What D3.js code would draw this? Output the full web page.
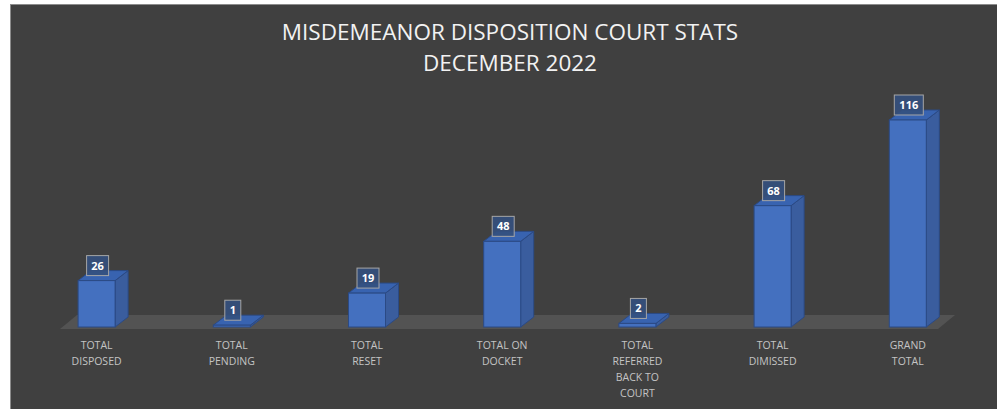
<!DOCTYPE html>
<html>
<head>
<meta charset="utf-8">
<script src="https://cdn.jsdelivr.net/npm/d3@7"></script>
<style>
  body { margin: 0; background: #ffffff; }
  text { font-family: "Open Sans", "Liberation Sans", sans-serif; }
</style>
</head>
<body>
<script>
var width = 997;
var height = 409;

var categories = ["TOTAL DISPOSED", "TOTAL PENDING", "TOTAL RESET", "TOTAL ON DOCKET",
  "TOTAL REFERRED BACK TO COURT", "TOTAL DIMISSED", "GRAND TOTAL"];
var values = [26, 1, 19, 48, 2, 68, 116];
var tickLines = [["TOTAL", "DISPOSED"], ["TOTAL", "PENDING"], ["TOTAL", "RESET"],
  ["TOTAL ON", "DOCKET"], ["TOTAL", "REFERRED", "BACK TO", "COURT"],
  ["TOTAL", "DIMISSED"], ["GRAND", "TOTAL"]];
var titleLines = ["MISDEMEANOR DISPOSITION COURT STATS", "DECEMBER 2022"];

var svg = d3.select("body")
  .append("svg")
  .attr("width", width)
  .attr("height", height);

// chart panel
svg.append("rect")
  .attr("x", 10.5).attr("y", 4.5)
  .attr("width", 1000).attr("height", 420)
  .attr("fill", "#404040")
  .attr("stroke", "#8c8c8c");

var baseY = 327;
var depthX = 13, depthY = 10;

var x = d3.scaleBand()
  .domain(categories)
  .range([29, 975.4])
  .paddingInner(0)
  .paddingOuter(0);

var y = d3.scaleLinear()
  .domain([0, 116])
  .range([baseY, 120]);

var barW = 37;

// floor
var fx0 = 60, fx1 = 938;
svg.append("path")
  .attr("d", "M" + fx0 + "," + (baseY + 2) + " L" + fx1 + "," + (baseY + 2) +
    " L" + (fx1 + 17) + "," + (baseY - 12) + " L" + (fx0 + 17) + "," + (baseY - 12) + "Z")
  .attr("fill", "#535353");

// title
svg.selectAll("text.title")
  .data(titleLines)
  .enter()
  .append("text")
  .attr("class", "title")
  .attr("x", 510)
  .attr("y", function (d, i) { return 40 + i * 31; })
  .attr("text-anchor", "middle")
  .attr("font-size", 22.5)
  .attr("fill", "#f2f2f2")
  .text(function (d) { return d; });

var bars = svg.selectAll("g.bar")
  .data(values)
  .enter()
  .append("g")
  .attr("class", "bar");

function left(d, i) { return x(categories[i]) + x.bandwidth() / 2 - barW / 2; }

// side face
bars.append("path")
  .attr("d", function (d, i) {
    var x0 = left(d, i) + barW, yt = y(d);
    return "M" + x0 + "," + baseY + " L" + (x0 + depthX) + "," + (baseY - depthY) +
      " L" + (x0 + depthX) + "," + (yt - depthY) + " L" + x0 + "," + yt + "Z";
  })
  .attr("fill", "#3a5d9e")
  .attr("stroke", "#2b4a85")
  .attr("stroke-width", 1);

// top face
bars.append("path")
  .attr("d", function (d, i) {
    var x0 = left(d, i), yt = y(d);
    return "M" + x0 + "," + yt + " L" + (x0 + barW) + "," + yt +
      " L" + (x0 + barW + depthX) + "," + (yt - depthY) + " L" + (x0 + depthX) + "," + (yt - depthY) + "Z";
  })
  .attr("fill", "#3863b0")
  .attr("stroke", "#2b4a85")
  .attr("stroke-width", 1);

// front face
bars.append("rect")
  .attr("x", left)
  .attr("y", function (d) { return y(d); })
  .attr("width", barW)
  .attr("height", function (d) { return baseY - y(d); })
  .attr("fill", "#4470bf")
  .attr("stroke", "#2b4a85")
  .attr("stroke-width", 1);

// value labels
bars.each(function (d, i) {
  var g = d3.select(this);
  var cx = x(categories[i]) + x.bandwidth() / 2 + 1;
  var w = String(d).length > 2 ? 29 : (String(d).length > 1 ? 22 : 16);
  var bottom = y(d) - 5;
  g.append("rect")
    .attr("x", cx - w / 2)
    .attr("y", bottom - 20)
    .attr("width", w)
    .attr("height", 20)
    .attr("fill", "#34507e")
    .attr("fill-opacity", 0.9)
    .attr("stroke", "#a6a6a6")
    .attr("stroke-width", 1);
  g.append("text")
    .attr("x", cx)
    .attr("y", bottom - 6)
    .attr("text-anchor", "middle")
    .attr("font-size", 11)
    .attr("font-weight", "bold")
    .attr("fill", "#ffffff")
    .text(d);
});

// category labels
svg.selectAll("text.cat")
  .data(tickLines)
  .enter()
  .append("text")
  .attr("class", "cat")
  .attr("text-anchor", "middle")
  .attr("font-size", 10.5)
  .attr("fill", "#c4c4c4")
  .each(function (lines, i) {
    var t = d3.select(this);
    var cx = x(categories[i]) + x.bandwidth() / 2;
    lines.forEach(function (l, j) {
      t.append("tspan")
        .attr("x", cx)
        .attr("y", 349 + j * 16)
        .text(l);
    });
  });
</script>
</body>
</html>
